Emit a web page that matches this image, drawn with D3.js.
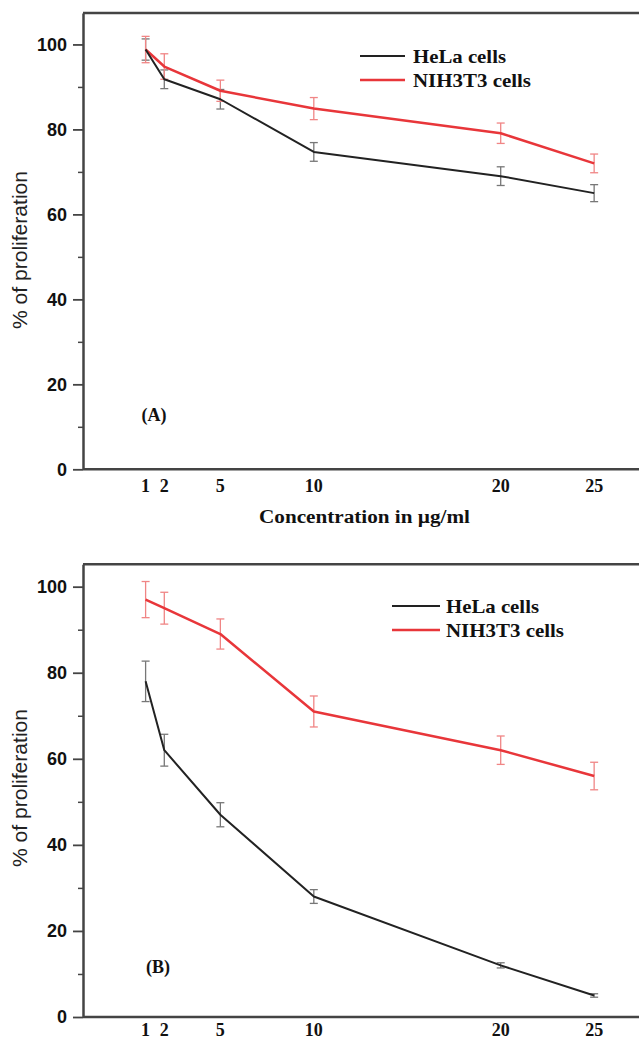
<!DOCTYPE html>
<html>
<head>
<meta charset="utf-8">
<script src="https://cdn.jsdelivr.net/npm/d3@7"></script>
<style>
  html, body { margin: 0; padding: 0; background: #fff; }
  svg { display: block; }
</style>
</head>
<body>
<svg id="chart" width="639" height="1039"></svg>
<script>
// ---- data ----
const concentrations = [1, 2, 5, 10, 20, 25];
const xTickLabels = ["1", "2", "5", "10", "20", "25"];
const yTicks = [0, 20, 40, 60, 80, 100];
const yMinorTicks = [10, 30, 50, 70, 90];
const seriesNames = ["HeLa cells", "NIH3T3 cells"];

const helaA    = [98.8, 91.8, 87.1, 74.7, 69.0, 65.0];
const helaAErr = [2.5, 2.2, 2.3, 2.2, 2.2, 2.0];
const nihA     = [98.8, 94.8, 89.1, 84.9, 79.1, 72.0];
const nihAErr  = [3.1, 3.0, 2.5, 2.6, 2.4, 2.2];

const helaB    = [78.0, 62.0, 47.0, 28.0, 12.0, 5.0];
const helaBErr = [4.7, 3.7, 2.8, 1.6, 0.6, 0.4];
const nihB     = [97.0, 95.0, 89.0, 71.0, 62.0, 56.0];
const nihBErr  = [4.2, 3.7, 3.5, 3.6, 3.3, 3.2];

// ---- styling / layout ----
const SERIF = "'Liberation Serif', 'Times New Roman', serif";
const SANS = "'Liberation Sans', Arial, sans-serif";
const BLACK = "#222";
const RED = "#e8363a";
const BLACK_ERR = "#777";
const RED_ERR = "#f08585";
const FRAME = "#444";

const svg = d3.select("#chart");

const x = d3.scaleLinear().domain([-2.35, 27.4]).range([83, 639]);

const panels = [
  { top: 13, bottom: 469.3, yMax: 107.4, label: "(A)", labelPos: [154, 415],
    hela: helaA, helaErr: helaAErr, nih: nihA, nihErr: nihAErr,
    legend: { x1: 360, x2: 405, y: 56, tx: 413 },
    xLabelBaseline: 492, xTitle: true, titleCenter: 250 },
  { top: 564.3, bottom: 1017, yMax: 105.2, label: "(B)", labelPos: [158, 967],
    hela: helaB, helaErr: helaBErr, nih: nihB, nihErr: nihBErr,
    legend: { x1: 392, x2: 440, y: 606, tx: 446 },
    xLabelBaseline: 1036, xTitle: false, titleCenter: 788 }
];

panels.forEach(p => {
  const y = d3.scaleLinear().domain([0, p.yMax]).range([p.bottom, p.top]);
  const g = svg.append("g");

  // frame: top border
  g.append("line")
    .attr("x1", x.range()[0]).attr("x2", x.range()[1])
    .attr("y1", y(p.yMax)).attr("y2", y(p.yMax))
    .attr("stroke", FRAME).attr("stroke-width", 2.5);

  // x axis baseline
  g.append("line")
    .attr("x1", x.range()[0]).attr("x2", x.range()[1])
    .attr("y1", y(0)).attr("y2", y(0))
    .attr("stroke", FRAME).attr("stroke-width", 2.5);

  // minor y ticks
  const minor = g.append("g").attr("transform", `translate(${x.range()[0]},0)`)
    .call(d3.axisLeft(y).tickValues(yMinorTicks).tickSize(5).tickSizeOuter(0).tickFormat(""));
  minor.select(".domain").remove();
  minor.selectAll("line").attr("stroke", FRAME).attr("stroke-width", 1.5);

  // major y axis
  const yAxis = g.append("g").attr("transform", `translate(${x.range()[0]},0)`)
    .call(d3.axisLeft(y).tickValues(yTicks).tickSize(10).tickSizeOuter(0).tickPadding(6));
  yAxis.select(".domain").attr("stroke", FRAME).attr("stroke-width", 2.5);
  yAxis.selectAll(".tick line").attr("stroke", FRAME).attr("stroke-width", 1.8);
  yAxis.selectAll(".tick text")
    .attr("font-family", SANS).attr("font-weight", "bold").attr("font-size", 18)
    .attr("fill", "#111");

  // x tick labels (no tick marks)
  g.selectAll(".xl").data(concentrations).enter().append("text")
    .attr("x", (d) => x(d))
    .attr("y", p.xLabelBaseline)
    .attr("text-anchor", "middle")
    .attr("font-family", SERIF).attr("font-weight", "bold").attr("font-size", 18)
    .attr("fill", "#111")
    .text((d, i) => xTickLabels[i]);

  if (p.xTitle) {
    g.append("text")
      .attr("x", 364.5).attr("y", 523)
      .attr("text-anchor", "middle")
      .attr("font-family", SERIF).attr("font-weight", "bold").attr("font-size", 18)
      .attr("textLength", 211).attr("lengthAdjust", "spacingAndGlyphs")
      .attr("fill", "#111")
      .text("Concentration in \u00b5g/ml");
  }

  // y title
  g.append("text")
    .attr("transform", `translate(27,${p.titleCenter}) rotate(-90)`)
    .attr("text-anchor", "middle")
    .attr("font-family", SANS).attr("font-size", 20)
    .attr("textLength", 158).attr("lengthAdjust", "spacingAndGlyphs")
    .attr("fill", "#222")
    .text("% of proliferation");

  // error bars
  const drawErr = (vals, errs, color) => {
    const eg = g.append("g").attr("stroke", color).attr("stroke-width", 1.3).attr("fill", "none");
    concentrations.forEach((c, i) => {
      const cx = x(c), y1 = y(vals[i] + errs[i]), y2 = y(vals[i] - errs[i]);
      eg.append("line").attr("x1", cx).attr("x2", cx).attr("y1", y1).attr("y2", y2);
      eg.append("line").attr("x1", cx - 4).attr("x2", cx + 4).attr("y1", y1).attr("y2", y1);
      eg.append("line").attr("x1", cx - 4).attr("x2", cx + 4).attr("y1", y2).attr("y2", y2);
    });
  };
  drawErr(p.hela, p.helaErr, BLACK_ERR);
  drawErr(p.nih, p.nihErr, RED_ERR);

  const line = d3.line().x((d, i) => x(concentrations[i])).y(d => y(d));
  g.append("path").datum(p.nih).attr("d", line)
    .attr("fill", "none").attr("stroke", RED).attr("stroke-width", 2.5).attr("stroke-linejoin", "round");
  g.append("path").datum(p.hela).attr("d", line)
    .attr("fill", "none").attr("stroke", BLACK).attr("stroke-width", 2).attr("stroke-linejoin", "round");

  // legend
  const L = p.legend;
  [[BLACK, 2, seriesNames[0], 93], [RED, 2.5, seriesNames[1], 118]].forEach(([col, w, name, len], i) => {
    const ly = L.y + i * 24;
    g.append("line").attr("x1", L.x1).attr("x2", L.x2).attr("y1", ly).attr("y2", ly)
      .attr("stroke", col).attr("stroke-width", w);
    g.append("text").attr("x", L.tx).attr("y", ly + 6.5)
      .attr("font-family", SERIF).attr("font-weight", "bold").attr("font-size", 19)
      .attr("textLength", len).attr("lengthAdjust", "spacingAndGlyphs")
      .attr("fill", "#111")
      .text(name);
  });

  // panel label
  g.append("text").attr("x", p.labelPos[0]).attr("y", p.labelPos[1] + 6)
    .attr("text-anchor", "middle")
    .attr("font-family", SERIF).attr("font-weight", "bold").attr("font-size", 18)
    .attr("fill", "#111")
    .text(p.label);
});
</script>
</body>
</html>
